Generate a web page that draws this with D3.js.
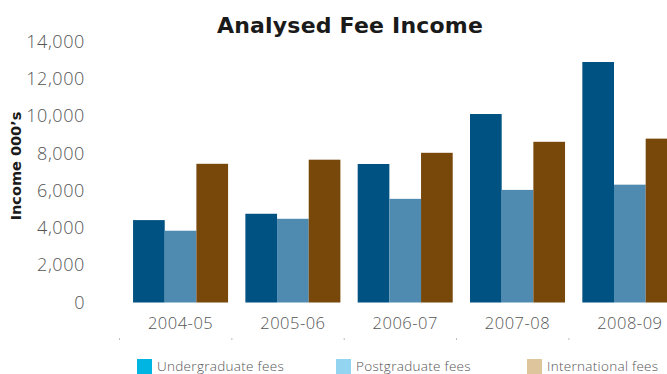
<!DOCTYPE html>
<html>
<head>
<meta charset="utf-8">
<script src="https://cdn.jsdelivr.net/npm/d3@7"></script>
<style>
  html, body { margin: 0; padding: 0; background: #fff; overflow: hidden; }
  svg { display: block; }
</style>
</head>
<body>
<svg id="chart" width="667" height="374"></svg>
<script>
const categories = ["2004-05", "2005-06", "2006-07", "2007-08", "2008-09"];
const seriesNames = ["Undergraduate fees", "Postgraduate fees", "International fees"];
const undergraduate = [4420, 4760, 7430, 10110, 12900];
const postgraduate = [3850, 4490, 5560, 6040, 6320];
const international = [7440, 7660, 8030, 8620, 8790];
const yTicks = [0, 2000, 4000, 6000, 8000, 10000, 12000, 14000];
const barColors = ["#005282", "#4f8bb0", "#77480a"];
const legendColors = ["#00b5e2", "#93d4f0", "#dfc59b"];

const seriesValues = [undergraduate, postgraduate, international];
const data = categories.map((c, i) => ({
  cat: c,
  vals: seriesNames.map((s, j) => ({ key: s, idx: j, value: seriesValues[j][i] }))
}));

const svg = d3.select("#chart");

const x0 = d3.scaleBand().domain(categories).range([124.4, 686]).paddingInner(0.154).paddingOuter(0.077);
const x1 = d3.scaleBand().domain(seriesNames).range([0, x0.bandwidth()]);
const y = d3.scaleLinear().domain([0, 14000]).range([302.5, 41.5]);

// Title
svg.append("text")
  .attr("x", 350).attr("y", 25)
  .attr("text-anchor", "middle").attr("dominant-baseline", "central")
  .style("font-family", "'DejaVu Sans', sans-serif")
  .style("font-weight", 700).style("font-size", "22px").style("fill", "#1a1a1a")
  .style("letter-spacing", "0.2px")
  .text("Analysed Fee Income");

// Y axis labels
const yAxis = d3.axisLeft(y).tickValues(yTicks).tickSize(0).tickPadding(0).tickFormat(d3.format(","));
const gy = svg.append("g").attr("transform", "translate(85,0)").call(yAxis);
gy.select(".domain").remove();
gy.selectAll("text")
  .style("font-family", "'Open Sans', sans-serif").style("font-weight", 300)
  .style("font-size", "18px").style("fill", "#555").style("letter-spacing", "0.6px");

// Y axis title
svg.append("text")
  .attr("transform", "translate(16,166) rotate(-90)")
  .attr("text-anchor", "middle").attr("dominant-baseline", "central")
  .style("font-family", "'DejaVu Sans', sans-serif")
  .style("font-weight", 700).style("font-size", "14.5px").style("fill", "#1a1a1a")
  .text("Income 000\u2019s");

// Bars
const groups = svg.append("g").selectAll("g").data(data).join("g")
  .attr("transform", d => `translate(${x0(d.cat)},0)`);
groups.selectAll("rect").data(d => d.vals).join("rect")
  .attr("x", d => x1(d.key))
  .attr("y", d => y(d.value))
  .attr("width", x1.bandwidth())
  .attr("height", d => y(0) - y(d.value))
  .attr("fill", d => barColors[d.idx]);

// X axis labels
const xAxis = d3.axisBottom(x0).tickSize(0).tickPadding(0);
const gx = svg.append("g").attr("transform", "translate(0,322)").call(xAxis);
gx.select(".domain").remove();
gx.selectAll("text")
  .attr("y", 0).attr("dy", null).attr("dominant-baseline", "central")
  .style("font-family", "'Open Sans', sans-serif").style("font-weight", 300)
  .style("font-size", "16.5px").style("fill", "#555").style("letter-spacing", "0.5px");

// small tick dots
svg.append("g").selectAll("rect").data(categories).join("rect")
  .attr("x", d => x0(d) - 14).attr("y", 338)
  .attr("width", 1).attr("height", 2).attr("fill", "#bbb");

// Legend
const legendX = [137, 336, 527];
const lg = svg.append("g").selectAll("g").data(seriesNames).join("g")
  .attr("transform", (d, i) => `translate(${legendX[i]},359)`);
lg.append("rect").attr("width", 15).attr("height", 15).attr("fill", (d, i) => legendColors[i]);
lg.append("text").attr("x", 20).attr("y", 7).attr("dominant-baseline", "central")
  .style("font-family", "'Open Sans', sans-serif").style("font-weight", 300)
  .style("font-size", "13.5px").style("fill", "#555").style("letter-spacing", "0.3px")
  .text(d => d);
</script>
</body>
</html>
